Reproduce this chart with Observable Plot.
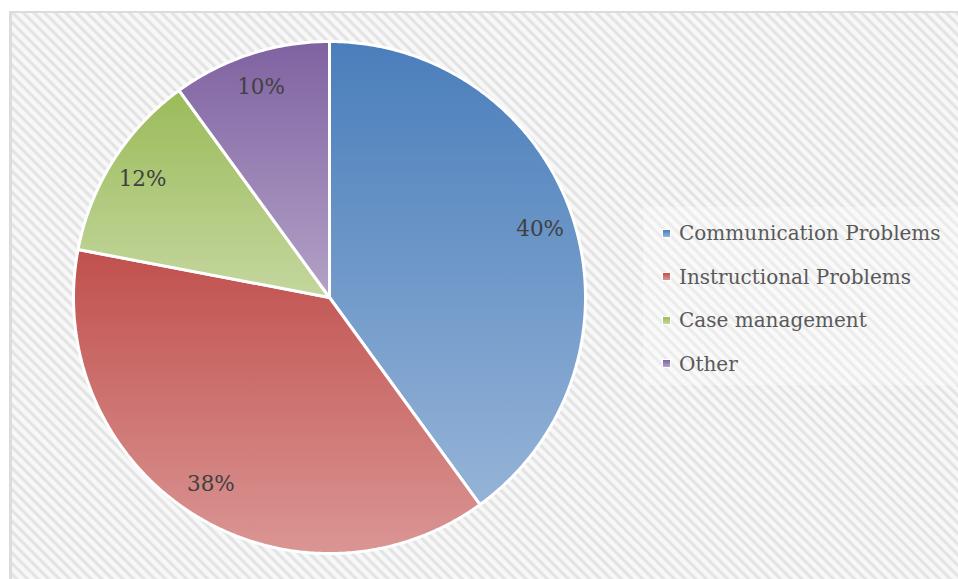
<!DOCTYPE html>
<html>
<head>
<meta charset="utf-8">
<script src="https://cdn.jsdelivr.net/npm/d3@7"></script>
<script src="https://cdn.jsdelivr.net/npm/@observablehq/plot@0.6"></script>
<style>
  html, body { margin: 0; padding: 0; background: #fff; }
  #wrap { position: relative; width: 958px; height: 579px; overflow: hidden; background: #fff; }
  #frame {
    position: absolute; left: 9px; top: 11px; width: 980px; height: 600px;
    border-left: 3px solid #dcdcdc; border-top: 2px solid #dcdcdc;
    background: repeating-linear-gradient(45deg, #f8f8f8 0px, #f8f8f8 2.5px, #e2e2e2 4.5px, #e2e2e2 5.5px, #f8f8f8 7.5px);
  }
  #chart { position: absolute; left: 0; top: 0; }
  #legend {
    position: absolute; left: 643px; top: 207px; width: 320px; height: 178px;
    background: rgba(255,255,255,0.3);
    font-family: "DejaVu Serif", serif; font-size: 20px; color: #595959;
  }
  .row { position: absolute; left: 0; height: 30px; display: flex; align-items: center; white-space: nowrap; }
  .sw { width: 7px; height: 7px; margin-left: 20px; margin-right: 9px; box-shadow: 0 0 0 1px #fff; }
</style>
</head>
<body>
<div id="wrap">
  <div id="frame"></div>
  <div id="chart"></div>
  <div id="legend"></div>
</div>
<script>
const categories = ["Communication Problems", "Instructional Problems", "Case management", "Other"];
const values = [40, 38, 12, 10];
const labels = ["40%", "38%", "12%", "10%"];
const colorTop = ["#4a7ebb", "#c0504d", "#9bbb59", "#7f62a1"];
const colorBottom = ["#95b3d7", "#da9694", "#c4d79f", "#b3a2c7"];

const pie = d3.pie().sort(null)(values);

const slicePoints = pie.flatMap((p, i) => {
  const cat = categories[i];
  const n = Math.max(2, Math.ceil((p.endAngle - p.startAngle) / (Math.PI / 360)));
  const pts = [{cat, x: 0, y: 0}];
  for (let k = 0; k <= n; k++) {
    const a = p.startAngle + (p.endAngle - p.startAngle) * k / n;
    pts.push({cat, x: Math.sin(a), y: Math.cos(a)});
  }
  pts.push({cat, x: 0, y: 0});
  return pts;
});

const labelR = 0.865;
const labelData = pie.map((p, i) => {
  const a = (p.startAngle + p.endAngle) / 2;
  return {label: labels[i], x: labelR * Math.sin(a), y: labelR * Math.cos(a)};
});

const R = 256, cx = 329, cy = 297, W = 958, H = 579;

const chart = Plot.plot({
  width: W, height: H, margin: 0,
  x: {domain: [-cx / R, (W - cx) / R], axis: null},
  y: {domain: [-(H - cy) / R, cy / R], axis: null},
  style: {background: "transparent", overflow: "visible"},
  marks: [
    ...categories.map((c, i) => Plot.line(slicePoints.filter(d => d.cat === c), {
      x: "x", y: "y", fill: `url(#grad${i})`, stroke: "white", strokeWidth: 3, strokeLinejoin: "miter"
    })),
    Plot.text(labelData, {x: "x", y: "y", text: "label", fontSize: 21.5, fontFamily: "DejaVu Serif", fill: "#404040"})
  ]
});

const defs = d3.select(chart).insert("defs", ":first-child");
categories.forEach((c, i) => {
  const g = defs.append("linearGradient").attr("id", `grad${i}`)
    .attr("x1", 0).attr("y1", 0).attr("x2", 0).attr("y2", 1);
  g.append("stop").attr("offset", "0%").attr("stop-color", colorTop[i]);
  g.append("stop").attr("offset", "100%").attr("stop-color", colorBottom[i]);
});

document.getElementById("chart").appendChild(chart);

const legend = d3.select("#legend");
categories.forEach((c, i) => {
  const row = legend.append("div").attr("class", "row").style("top", `${11 + i * 43.5}px`);
  row.append("div").attr("class", "sw")
    .style("background", `linear-gradient(${colorTop[i]}, ${colorBottom[i]})`);
  row.append("span").text(c);
});
</script>
</body>
</html>
